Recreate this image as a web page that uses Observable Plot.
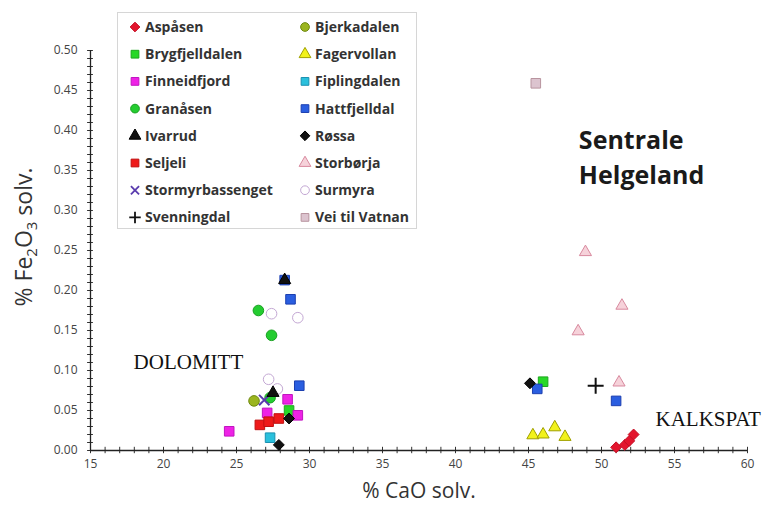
<!DOCTYPE html>
<html><head><meta charset="utf-8">
<script src="https://cdn.jsdelivr.net/npm/d3@7"></script>
<script src="https://cdn.jsdelivr.net/npm/@observablehq/plot@0.6"></script>
<style>
body{margin:0;background:#fff}
#chart{position:relative;width:766px;height:505px}
</style>
</head><body><div id="chart"></div>
<script>
// ---- data ----
const seriesNames = ["Aspåsen","Bjerkadalen","Brygfjelldalen","Fagervollan","Finneidfjord","Fiplingdalen","Granåsen","Hattfjelldal","Ivarrud","Røssa","Seljeli","Storbørja","Stormyrbassenget","Surmyra","Svenningdal","Vei til Vatnan"];
const seriesSymbols = ["diamond2","circle","square","triangle","square","square","circle","square","triangle","diamond2","square","triangle","times","circle","plus","square"];
const seriesFills = ["#e3152d","#9bb520","#28d828","#f2f21a","#ee22e6","#2ac0dc","#24cc30","#2a5ee0","#111111","#111111","#ee1a1a","#f6d2da","none","none","none","#dcc4cf"];
const seriesStrokes = ["#c40e24","#6f8a10","#1ca81c","#a0a000","#c015c0","#1a90b0","#18a020","#1c3fb0","#000000","#000000","#c01010","#d8899e","#5a3cae","#c4a8d4","#111111","#b8949f"];

// [CaO %, Fe2O3 %]
const aspasen = [[51.0,0.004],[51.6,0.007],[51.9,0.012],[52.2,0.020]];
const bjerkadalen = [[26.2,0.062]];
const brygfjelldalen = [[28.6,0.050],[46.0,0.086]];
const fagervollan = [[45.3,0.019],[46.0,0.020],[46.8,0.029],[47.5,0.017]];
const finneidfjord = [[24.5,0.024],[27.1,0.047],[28.5,0.064],[29.2,0.044]];
const fiplingdalen = [[27.3,0.016]];
const granasen = [[26.5,0.175],[27.4,0.144],[27.3,0.066]];
const hattfjelldal = [[28.3,0.213],[28.7,0.189],[29.3,0.081],[45.6,0.077],[51.0,0.062]];
const ivarrud = [[27.5,0.072],[28.3,0.213]];
const rossa = [[27.9,0.007],[28.6,0.040],[45.1,0.084]];
const seljeli = [[26.6,0.032],[27.2,0.036],[27.9,0.040]];
const storborja = [[48.9,0.248],[51.4,0.181],[48.4,0.149],[51.2,0.085]];
const stormyrbassenget = [[26.9,0.063]];
const surmyra = [[27.4,0.171],[29.2,0.166],[27.2,0.089],[27.8,0.077]];
const svenningdal = [[49.6,0.081]];
const veiTilVatnan = [[45.5,0.459]];
const seriesData = [aspasen,bjerkadalen,brygfjelldalen,fagervollan,finneidfjord,fiplingdalen,granasen,hattfjelldal,ivarrud,rossa,seljeli,storborja,stormyrbassenget,surmyra,svenningdal,veiTilVatnan];

const xMajor = [15,20,25,30,35,40,45,50,55,60];
const yMajor = [0,0.05,0.10,0.15,0.20,0.25,0.30,0.35,0.40,0.45,0.50];
const xMinor = d3.range(15,61,1);
const yMinor = d3.range(0,0.5001,0.01);

// ---- build ----
const symR = {square:5.4, circle:5.3, triangle:4.5, diamond2:4.9, times:4.8, plus:5.2};
const lineSym = new Set(["times","plus"]);
const rows = seriesNames.flatMap((n,i)=>seriesData[i].map(([x,y])=>{
  const s = seriesSymbols[i];
  return {name:n, x, y, r:symR[s],
    fill: lineSym.has(s) ? "none" : seriesFills[i],
    stroke: seriesStrokes[i],
    sw: lineSym.has(s) ? 2 : 1};
}));

const plot = Plot.plot({
  width:766, height:505,
  marginLeft:90, marginRight:19, marginTop:50, marginBottom:55,
  x:{domain:[15,60]},
  y:{domain:[0,0.5]},
  r:{type:"identity"},
  color:{type:"identity"},
  symbol:{domain:seriesNames, range:seriesSymbols},
  style:{fontFamily:"'Open Sans', sans-serif", background:"#fff", color:"#444"},
  marks:[
    Plot.axisX({ticks:xMajor, tickSize:0, tickPadding:9, fontSize:12, label:null, tickFormat:d=>String(d)}),
    Plot.axisY({ticks:yMajor, tickSize:0, tickPadding:13, fontSize:12, label:null, tickFormat:d3.format(".2f")}),
    Plot.ruleX(xMinor, {y1:-0.004, y2:0.004, stroke:"#333", strokeWidth:1}),
    Plot.ruleY(yMinor, {x1:14.8, x2:15.2, stroke:"#333", strokeWidth:1}),
    Plot.ruleX([15], {y1:0, y2:0.5, stroke:"#222", strokeWidth:1.3}),
    Plot.ruleY([0], {x1:15, x2:60, stroke:"#222", strokeWidth:1.3}),
    Plot.dot(rows, {x:"x", y:"y", symbol:"name", fill:"fill", stroke:"stroke", strokeWidth:"sw", r:"r"}),
    Plot.text(["Sentrale","Helgeland"], {x:48.45, y:[0.3775,0.3335], text:d=>d, textAnchor:"start", lineAnchor:"bottom",
      fontSize:25, fontWeight:700, fill:"#1a1a1a", fontFamily:"'Open Sans', sans-serif"}),
    Plot.text(["DOLOMITT"], {x:17.95, y:0.1025, textAnchor:"start", lineAnchor:"bottom",
      fontSize:21, fill:"#111", fontFamily:"'Liberation Serif', serif"}),
    Plot.text(["KALKSPAT"], {x:53.7, y:0.03125, textAnchor:"start", lineAnchor:"bottom",
      fontSize:21, fill:"#111", fontFamily:"'Liberation Serif', serif"})
  ]
});
document.getElementById("chart").appendChild(plot);

const svg = d3.select(plot);
// axis titles
const yl = svg.append("text").attr("transform","translate(32,237) rotate(-90)")
  .attr("text-anchor","middle").attr("font-size",23).attr("fill","#333")
  .attr("font-family","'Open Sans', sans-serif");
yl.append("tspan").text("% Fe");
yl.append("tspan").text("2").attr("font-size",15).attr("dy",5);
yl.append("tspan").text("O").attr("dy",-5);
yl.append("tspan").text("3").attr("font-size",15).attr("dy",5);
yl.append("tspan").text(" solv.").attr("dy",-5);
svg.append("text").attr("x",419).attr("y",498).attr("text-anchor","middle")
  .attr("font-size",21).attr("fill","#333").attr("font-family","'Open Sans', sans-serif")
  .text("% CaO solv.");

// legend
const symType = {diamond2:d3.symbolDiamond2, circle:d3.symbolCircle, square:d3.symbolSquare, triangle:d3.symbolTriangle, times:d3.symbolTimes, plus:d3.symbolPlus};
const lg = svg.append("g");
lg.append("rect").attr("x",117.5).attr("y",12.5).attr("width",299).attr("height",216)
  .attr("fill","#fff").attr("stroke","#d6d6d6");
seriesNames.forEach((n,i)=>{
  const col = i%2, row = Math.floor(i/2);
  const cx = col ? 305 : 135, cy = 27 + row*27.2;
  const s = seriesSymbols[i];
  const line = lineSym.has(s);
  lg.append("path").attr("transform",`translate(${cx},${cy})`)
    .attr("d", d3.symbol(symType[s], line ? 45 : 60)())
    .attr("fill", line ? "none" : seriesFills[i])
    .attr("stroke", seriesStrokes[i]).attr("stroke-width", line ? 1.8 : 1);
  lg.append("text").attr("x",cx+10).attr("y",cy).attr("dy","0.35em")
    .attr("text-anchor","start")
    .attr("font-size",14).attr("font-weight",700).attr("fill","#333")
    .attr("font-family","'Open Sans', sans-serif").text(n);
});
</script></body></html>
